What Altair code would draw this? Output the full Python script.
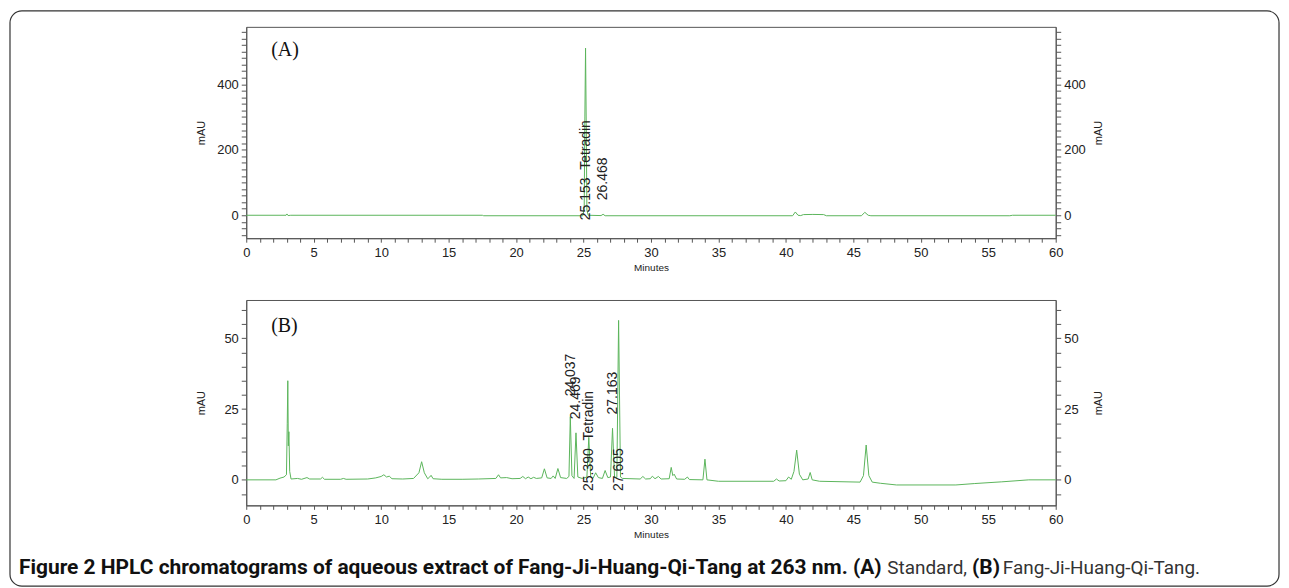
import altair as alt
import pandas as pd

GREEN = "#5BB55B"

# ---------------- Panel A (Standard) trace ----------------
a_t = [0, 2.95, 3.02, 3.1, 3.3, 17.5, 17.6, 24.95, 25.05, 25.1, 25.15, 25.2, 25.25, 25.35,
       26.3, 26.45, 26.6, 40.5, 40.7, 40.9, 41.1, 41.3, 42.0, 42.8, 43.0, 45.6, 45.85, 46.1,
       46.3, 56.6, 56.8, 60]
a_v = [0, 0, 4, -1, 0, 0, -1.5, -1.5, 20, 300, 510, 280, 15, 0,
       -1, 3, -1.5, -1.5, 10, 0, -1, 2, 2.5, 2, -1.5, -1.5, 9, 0,
       -1.5, -1.5, 0, 0]

# ---------------- Panel B (Fang-Ji-Huang-Qi-Tang) trace ----------------
b_t = [0, 2.2, 2.5, 2.8, 2.98, 3.04, 3.08, 3.12, 3.16, 3.22, 3.32, 3.8, 4.1, 4.5, 4.7, 5.5, 5.65, 5.8,
       7.0, 7.2, 7.4, 9.0, 9.6, 10.0, 10.2, 10.4, 10.6, 10.8, 11.6, 12.4, 12.8, 13.0, 13.2, 13.45,
       13.6, 13.7, 13.85, 14.5, 16.0, 17.2, 18.5, 18.7, 18.85, 19.3, 19.7, 20.3, 20.5, 20.7, 20.9,
       21.1, 21.3, 21.5, 21.9, 22.1, 22.3, 22.6, 22.75, 22.9, 23.1, 23.3, 23.75, 23.92, 24.02, 24.14,
       24.3, 24.44, 24.58, 24.9, 25.25, 25.39, 25.53, 25.7, 25.9, 26.1, 26.4, 26.6, 26.8, 27.0,
       27.15, 27.3, 27.47, 27.6, 27.74, 27.9, 29.2, 29.4, 29.6, 29.95, 30.1, 30.3, 30.55, 30.75,
       31.35, 31.5, 31.62, 31.72, 31.9, 32.5, 32.7, 32.85, 33.85, 34.0, 34.15, 35.0, 39.1, 39.3,
       39.5, 40.0, 40.2, 40.4, 40.6, 40.8, 41.0, 41.25, 41.65, 41.8, 41.95, 42.5, 45.5, 45.75,
       45.95, 46.15, 46.4, 47.0, 48.2, 52.6, 54.0, 56.0, 58.0, 60.0]
b_v = [0, 0, 0.6, 1.0, 1.8, 20, 35, 12, 17, 3, 0.3, 0.5, 0.2, 0.8, 0.3, 0.3, 0.9, 0.2,
       0.2, 0.5, 0.2, 0.3, 0.7, 1.2, 1.8, 1.0, 1.3, 0.4, 0.3, 0.5, 2.5, 6.4, 2.5, 0.4,
       1.0, 1.6, 0.4, 0.2, 0.2, 0.3, 0.5, 1.8, 0.7, 0.8, 0.4, 0.5, 1.2, 0.4, 1.0,
       0.4, 0.9, 0.5, 0.7, 3.9, 0.7, 0.5, 1.4, 0.5, 4.0, 0.8, 0.5, 1.2, 22.3, 1.5,
       0.5, 16.6, 1.0, 0.5, 1.0, 15, 1.0, 0.5, 2.5, 0.8, 0.5, 3.3, 0.8, 1.0,
       18.2, 1.0, 0.8, 56.3, 1.0, 0.5, 0.3, 1.2, 0.3, 0.4, 1.3, 0.4, 1.2, 0.3,
       0.4, 4.4, 1.5, 2.0, 0.3, 0.2, 1.0, 0.1, 0.0, 7.3, 0.0, -0.5, -0.5, 0.3,
       -0.4, -0.3, 1.0, 0.2, 3.0, 10.5, 2.0, 0.0, 0.3, 2.6, 0.0, -0.5, -0.8, 1.5,
       12.3, 1.5, -0.8, -1.2, -1.8, -1.8, -1.3, -0.7, 0.0, 0.0]

# ---------------- Peak labels ----------------
a_lab_t = [25.153, 26.468]
a_lab_v = [-15, 46]
a_lab_text = ["25.153\u00a0\u00a0Tetradin", "26.468"]

b_lab_t = [24.037, 24.469, 25.390, 27.163, 27.605]
b_lab_v = [29.5, 21.4, -3.9, 23.1, -3.9]
b_lab_text = ["24.037", "24.469", "25.390\u00a0\u00a0Tetradin", "27.163", "27.605"]

# ---------------- Axes ----------------
x_ticks = list(range(0, 61))
a_y_ticks = list(range(-60, 561, 20))
b_y_ticks = list(range(-5, 61, 5))

caption_bold = "Figure 2 HPLC chromatograms of aqueous extract of Fang-Ji-Huang-Qi-Tang at 263 nm. (A)"
caption_std = "Standard,"
caption_b = "(B)"
caption_fj = "Fang-Ji-Huang-Qi-Tang."

W = 812
HA = 212
HB = 206

one = pd.DataFrame({"k": [0]})


def make_panel(t, v, lt, lv, ltext, ydom, yticks, step, h, tag, tag_y, extra):
    df = pd.DataFrame({"t": t, "v": v})
    ldf = pd.DataFrame({"t": lt, "v": lv, "txt": ltext})
    xs = alt.Scale(domain=[0, 60], nice=False, zero=False)
    ys = alt.Scale(domain=ydom, nice=False, zero=False)
    xaxis = alt.Axis(values=x_ticks, labelExpr="datum.value % 5 == 0 ? datum.label : ''",
                     title="Minutes", labelFlush=False, tickSize=4, labelPadding=4,
                     titleFontSize=10, titlePadding=3, labelFontSize=13)
    lab_expr = f"datum.value % {step} == 0 ? datum.label : ''"
    yleft = alt.Axis(orient="left", values=yticks, labelExpr=lab_expr, title="mAU",
                     titleX=-45, titleY=h / 2, titleAngle=270, titleAlign="center",
                     titleBaseline="middle", tickSize=5, labelPadding=3, labelFontSize=13,
                     titleFontSize=11)
    yright = alt.Axis(orient="right", values=yticks, labelExpr=lab_expr, title="mAU",
                      titleX=43, titleY=h / 2, titleAngle=270, titleAlign="center",
                      titleBaseline="middle", tickSize=5, labelPadding=3, labelFontSize=13,
                      titleFontSize=11)
    base = alt.Chart(df)
    left = base.mark_line(color=GREEN, strokeWidth=1).encode(
        x=alt.X("t:Q", scale=xs, axis=xaxis),
        y=alt.Y("v:Q", scale=ys, axis=yleft),
    )
    right = base.mark_line(color=GREEN, strokeWidth=1, opacity=0).encode(
        x=alt.X("t:Q", scale=xs, axis=xaxis),
        y=alt.Y("v:Q", scale=ys, axis=yright),
    )
    labels = alt.Chart(ldf).mark_text(angle=270, align="left", baseline="middle",
                                      font="Liberation Sans", fontSize=14, color="#222").encode(
        x=alt.X("t:Q", scale=xs, axis=xaxis),
        y=alt.Y("v:Q", scale=ys, axis=None),
        text="txt:N",
    )
    tag_mark = alt.Chart(one).mark_text(align="left", baseline="alphabetic",
                                        font="Liberation Serif", fontSize=20, color="#111").encode(
        x=alt.value(25), y=alt.value(tag_y), text=alt.value(tag))
    layers = [left, right, labels, tag_mark] + extra
    return alt.layer(*layers).resolve_axis(y="independent").properties(width=W, height=h)


border = alt.Chart(one).mark_rect(fill="transparent", stroke="#333", strokeWidth=1.2,
                                  cornerRadius=12).encode(
    x=alt.value(-237), x2=alt.value(1036), y=alt.value(-16), y2=alt.value(561))

cap_font = "Roboto"
cap_y = 275
cap1 = alt.Chart(one).mark_text(align="left", baseline="alphabetic", font=cap_font, fontSize=21,
                                fontWeight="bold", color="#111").encode(
    x=alt.value(-228), y=alt.value(cap_y), text=alt.value(caption_bold))
cap2 = alt.Chart(one).mark_text(align="left", baseline="alphabetic", font=cap_font, fontSize=19,
                                color="#333").encode(
    x=alt.value(643), y=alt.value(cap_y), text=alt.value(caption_std))
cap3 = alt.Chart(one).mark_text(align="left", baseline="alphabetic", font=cap_font, fontSize=21,
                                fontWeight="bold", color="#111").encode(
    x=alt.value(728), y=alt.value(cap_y), text=alt.value(caption_b))
cap4 = alt.Chart(one).mark_text(align="left", baseline="alphabetic", font=cap_font, fontSize=19,
                                color="#333").encode(
    x=alt.value(759), y=alt.value(cap_y), text=alt.value(caption_fj))

panel_a = make_panel(a_t, a_v, a_lab_t, a_lab_v, a_lab_text, [-70, 575], a_y_ticks, 200, HA,
                     "(A)", 29, [border])
panel_b = make_panel(b_t, b_v, b_lab_t, b_lab_v, b_lab_text, [-9, 63.5], b_y_ticks, 25, HB,
                     "(B)", 32, [cap1, cap2, cap3, cap4])

chart = alt.vconcat(panel_a, panel_b, spacing=62, bounds="flush").properties(
    padding=0
).configure(font="Liberation Sans").configure_view(
    stroke="#555", strokeWidth=1
).configure_axis(
    domainColor="#555", tickColor="#555", labelColor="#222", titleColor="#222",
    labelFont="Liberation Sans", titleFont="Liberation Sans", titleFontWeight="normal",
    grid=False
)

chart.save("out.html", embed_options={"renderer": "svg", "actions": False})
